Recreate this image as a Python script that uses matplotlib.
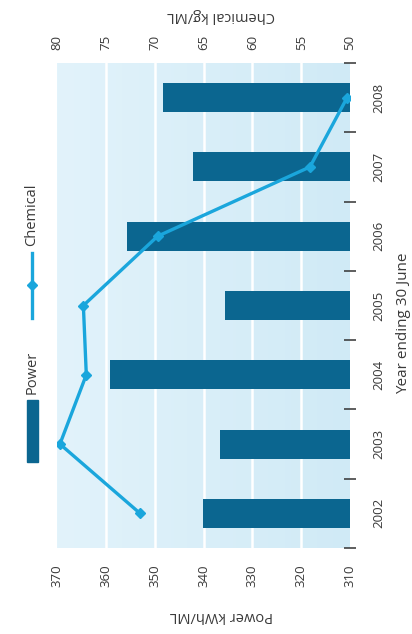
import matplotlib
matplotlib.use("Agg")
import matplotlib.pyplot as plt
import numpy as np
from matplotlib.patches import Rectangle
from matplotlib.lines import Line2D
from matplotlib.colors import LinearSegmentedColormap

plt.rcParams['font.family'] = ['Open Sans', 'DejaVu Sans']

years = ['2002', '2003', '2004', '2005', '2006', '2007', '2008']
power = [340.1, 336.6, 359.1, 335.6, 355.7, 342.1, 348.3]
chemical = [71.5, 79.7, 77.0, 77.3, 69.7, 54.1, 50.3]
power_ticks = [370, 360, 350, 340, 330, 320, 310]
chem_ticks = [80, 75, 70, 65, 60, 55, 50]

W, H = 412, 634
fig = plt.figure(figsize=(W / 100, H / 100), dpi=100)
fig.patch.set_facecolor('white')

def fx(px):
    return px / W

def fy(py):
    return 1 - py / H

L, R, T, B = 57, 350, 63, 548
ax = fig.add_axes([fx(L), fy(B), fx(R - L), (B - T) / H])

txt = '#3a3a3a'
bar_c = '#0b6690'
line_c = '#1aa6dc'

# background gradient
grad = np.linspace(0, 1, 256).reshape(1, -1)
cmap = LinearSegmentedColormap.from_list('bg', ['#e2f3fb', '#d0eaf6'])
ax.imshow(grad, extent=[0, 1, 0, 1], transform=ax.transAxes, cmap=cmap,
          aspect='auto', zorder=0)

ypos = np.arange(len(years))
ax.set_xlim(370, 310)
ax.set_ylim(-0.5, len(years) - 0.5)
for v in power_ticks[1:-1]:
    ax.axvline(v, color='white', lw=1.8, zorder=1)
ax.barh(ypos, [p - 310 for p in power], left=310, height=0.42,
        color=bar_c, zorder=2)

for s in ax.spines.values():
    s.set_visible(False)

ax.set_xticks(power_ticks)
ax.set_xticklabels([str(t) for t in power_ticks], rotation=90, fontsize=9.5,
                   color=txt, va='center')
ax.tick_params(axis='x', length=0, pad=20)

ax.yaxis.tick_right()
ax.set_yticks(ypos)
ax.set_yticklabels(years, rotation=90, fontsize=9.5, color=txt, va='center')
ax.set_yticks(np.arange(-0.5, len(years)), minor=True)
ax.tick_params(axis='y', which='major', length=0, pad=16)
ax.tick_params(axis='y', which='minor', direction='inout', length=9,
               width=1.1, color='#333333')

ax2 = ax.twiny()
ax2.set_xlim(80, 50)
ax2.plot(chemical, ypos, color=line_c, lw=2.4, marker='D', ms=5,
         zorder=3)
for s in ax2.spines.values():
    s.set_visible(False)
ax2.set_xticks(chem_ticks)
ax2.set_xticklabels([str(t) for t in chem_ticks], rotation=90, fontsize=9.5,
                    color=txt, va='center')
ax2.tick_params(axis='x', length=0, pad=15)

# axis titles
fig.text(fx(221), fy(616), 'Power kWh/ML', rotation=180, ha='center',
         va='center', fontsize=10.5, color=txt)
fig.text(fx(221), fy(15), 'Chemical kg/ML', rotation=180, ha='center',
         va='center', fontsize=10.5, color=txt)
fig.text(fx(404), fy(323), 'Year ending 30 June', rotation=90, ha='center',
         va='center', fontsize=11, color=txt)

# chart title (cut off at left edge, as in the reference)
fig.text(fx(-4.5), fy(347), 'Power and chemical demand', rotation=90,
         ha='center', va='top', fontsize=13, color=txt)

# legend
fig.patches.append(Rectangle((fx(27), fy(462)), fx(11), (462 - 400) / H,
                             transform=fig.transFigure, color=bar_c))
fig.text(fx(32), fy(372), 'Power', rotation=90, ha='center', va='center',
         fontsize=10.5, color=txt)
fig.lines.append(Line2D([fx(32), fx(32)], [fy(318), fy(253)],
                        transform=fig.transFigure, color=line_c, lw=2.4))
fig.lines.append(Line2D([fx(32)], [fy(285)], transform=fig.transFigure,
                        color=line_c, marker='D', ms=5, lw=0))
fig.text(fx(32), fy(215), 'Chemical', rotation=90, ha='center', va='center',
         fontsize=10.5, color=txt)

fig.savefig('out.png', dpi=100)
